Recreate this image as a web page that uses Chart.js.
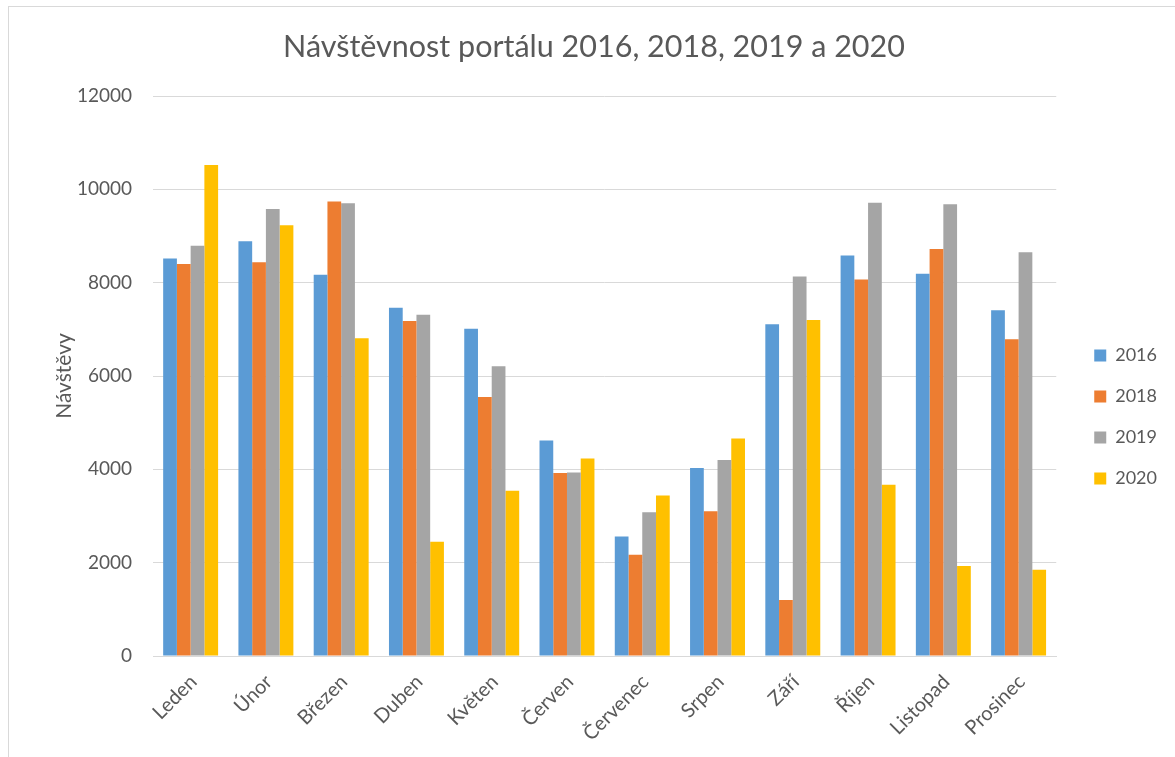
<!DOCTYPE html>
<html lang="cs">
<head>
<meta charset="utf-8">
<title>Návštěvnost portálu</title>
<script src="https://cdn.jsdelivr.net/npm/chart.js@4.4.1/dist/chart.umd.min.js"></script>
<style>
  html, body { margin: 0; padding: 0; background: #fff; }
  #frame { position: absolute; left: 8px; top: 6px; width: 1200px; height: 800px; border: 1px solid #d9d9d9; }
  #wrap { position: absolute; left: 0; top: 0; width: 1175px; height: 757px; }
</style>
</head>
<body>
<div id="frame"></div>
<div id="wrap"><canvas id="visitsChart" width="1175" height="757"></canvas></div>
<script>
// months and visits per year
const months = ['Leden', 'Únor', 'Březen', 'Duben', 'Květen', 'Červen', 'Červenec', 'Srpen', 'Září', 'Říjen', 'Listopad', 'Prosinec'];
const visits2016 = [8520, 8890, 8170, 7460, 7010, 4620, 2560, 4030, 7110, 8580, 8190, 7410];
const visits2018 = [8400, 8440, 9740, 7180, 5550, 3920, 2170, 3100, 1200, 8070, 8720, 6790];
const visits2019 = [8790, 9580, 9700, 7310, 6210, 3930, 3080, 4200, 8130, 9710, 9680, 8650];
const visits2020 = [10520, 9230, 6810, 2450, 3540, 4230, 3440, 4660, 7200, 3670, 1930, 1850];
const yearLabels = ['2016', '2018', '2019', '2020'];

const textColor = '#595959';
const gridColor = '#d9d9d9';

Chart.defaults.font.family = 'Lato, "Open Sans", sans-serif';
Chart.defaults.color = textColor;

// push legend away from the plot and centre the title like in Excel
const nudgeBoxes = {
  id: 'nudgeBoxes',
  afterLayout(chart) {
    if (chart.legend) {
      chart.legend.left += 15;
      chart.legend.right += 15;
    }
    if (chart.titleBlock) {
      chart.titleBlock.left += 18;
      chart.titleBlock.right += 18;
    }
  },
};

const ctx = document.getElementById('visitsChart').getContext('2d');
new Chart(ctx, {
  type: 'bar',
  data: {
    labels: months,
    datasets: [
      { label: yearLabels[0], data: visits2016, backgroundColor: '#5b9bd5' },
      { label: yearLabels[1], data: visits2018, backgroundColor: '#ed7d31' },
      { label: yearLabels[2], data: visits2019, backgroundColor: '#a5a5a5' },
      { label: yearLabels[3], data: visits2020, backgroundColor: '#ffc000' },
    ],
  },
  options: {
    responsive: false,
    animation: false,
    layout: { padding: { left: 0, right: 23, top: 0, bottom: 0 } },
    datasets: {
      bar: { barPercentage: 1, categoryPercentage: 0.73 },
    },
    scales: {
      x: {
        grid: { display: false, drawTicks: false },
        border: { color: gridColor, width: 1 },
        ticks: {
          font: { size: 20 },
          color: textColor,
          minRotation: 45,
          maxRotation: 45,
          padding: 14,
          labelOffset: 3,
        },
        afterFit(scale) { scale.height = 101; },
      },
      y: {
        min: 0,
        max: 12000,
        grid: { color: gridColor, lineWidth: 1, drawTicks: false },
        border: { display: false },
        ticks: {
          stepSize: 2000,
          font: { size: 19 },
          color: textColor,
          padding: 21,
          callback: (value) => String(value),
        },
        title: {
          display: true,
          text: 'Návštěvy',
          font: { size: 21 },
          color: textColor,
          padding: { top: 52, bottom: 0 },
        },
        afterFit(scale) { scale.width = 153; },
      },
    },
    plugins: {
      title: {
        display: true,
        text: 'Návštěvnost portálu 2016, 2018, 2019 a 2020',
        font: { size: 30.5, weight: 'normal' },
        color: textColor,
        padding: { top: 28.7, bottom: 30.7 },
      },
      legend: {
        position: 'right',
        fullSize: false,
        align: 'center',
        title: { display: true, text: '', font: { size: 10 }, padding: { top: 70, bottom: 0 } },
        labels: {
          boxWidth: 12,
          boxHeight: 12,
          padding: 23,
          font: { size: 18 },
          color: textColor,
        },
      },
      tooltip: { enabled: false },
    },
  },
  plugins: [nudgeBoxes],
});
</script>
</body>
</html>
